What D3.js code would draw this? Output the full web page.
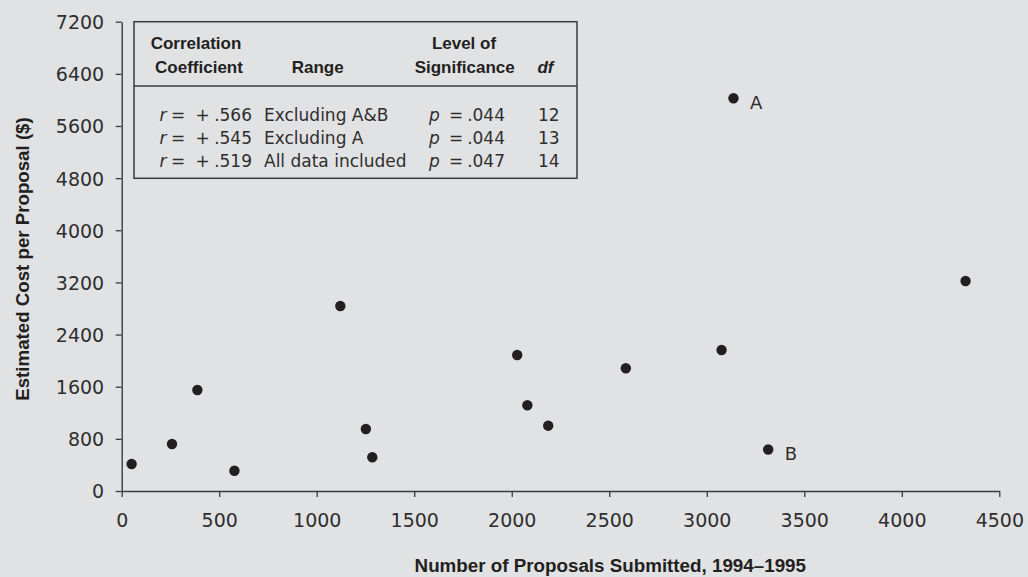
<!DOCTYPE html>
<html>
<head>
<meta charset="utf-8">
<script src="https://cdn.jsdelivr.net/npm/d3@7"></script>
<style>
  html, body { margin: 0; padding: 0; background: #e1e2e4; }
  svg { display: block; }
</style>
</head>
<body>
<svg id="chart" width="1028" height="577"></svg>
<script>
// ---- Data ----
const proposals = [51, 258, 388, 578, 1121, 1252, 1285, 2028, 2080, 2187, 2585, 3076, 3137, 3315, 4327];
const costs     = [414, 721, 1550, 311, 2838, 951, 517, 2087, 1315, 1002, 1883, 2163, 6025, 637, 3222];
const pointLabels = ["", "", "", "", "", "", "", "", "", "", "", "", "A", "B", ""];

const xTicks = [0, 500, 1000, 1500, 2000, 2500, 3000, 3500, 4000, 4500];
const yTicks = [0, 800, 1600, 2400, 3200, 4000, 4800, 5600, 6400, 7200];

const tableR     = [".566", ".545", ".519"];
const tableRange = ["Excluding A&B", "Excluding A", "All data included"];
const tableP     = [".044", ".044", ".047"];
const tableDf    = ["12", "13", "14"];

const xTitle = "Number of Proposals Submitted, 1994\u20131995";
const yTitle = "Estimated Cost per Proposal ($)";

// ---- Layout ----
const svg = d3.select("#chart");
const ink = "#231f20";
const lineCol = "#3b3b3b";
const regFont = "'DejaVu Sans', sans-serif";
const boldFont = "'Liberation Sans', Arial, sans-serif";

const x = d3.scaleLinear().domain([0, 4500]).range([121.7, 999.3]);
const y = d3.scaleLinear().domain([0, 7200]).range([491, 21.7]);

// X axis
const gx = svg.append("g")
  .attr("transform", `translate(0,${y(0)})`)
  .call(d3.axisBottom(x).tickValues(xTicks).tickFormat(d3.format("d")).tickSize(6).tickSizeOuter(0));
gx.select(".domain").attr("stroke", lineCol).attr("stroke-width", 1.4);
gx.selectAll(".tick line").attr("stroke", lineCol).attr("stroke-width", 1.3);
gx.selectAll(".tick text")
  .attr("y", 36.3).attr("dy", 0)
  .attr("font-family", regFont).attr("font-size", 19)
  .attr("fill", "#2e2e2e");

// Y axis
const gy = svg.append("g")
  .attr("transform", `translate(${x(0)},0)`)
  .call(d3.axisLeft(y).tickValues(yTicks).tickFormat(d3.format("d")).tickSize(6).tickSizeOuter(0));
gy.select(".domain").attr("stroke", lineCol).attr("stroke-width", 1.4);
gy.selectAll(".tick line").attr("stroke", lineCol).attr("stroke-width", 1.3);
gy.selectAll(".tick text")
  .attr("x", -17.5).attr("dy", "0.364em")
  .attr("font-family", regFont).attr("font-size", 19)
  .attr("fill", "#2e2e2e");

// Axis titles
svg.append("text")
  .attr("x", 610.3).attr("y", 571.7)
  .attr("text-anchor", "middle")
  .attr("font-family", boldFont).attr("font-weight", "bold").attr("font-size", 18.8)
  .attr("fill", ink)
  .text(xTitle);

svg.append("text")
  .attr("transform", "translate(29,259) rotate(-90)")
  .attr("text-anchor", "middle")
  .attr("font-family", boldFont).attr("font-weight", "bold").attr("font-size", 18.7)
  .attr("fill", ink)
  .text(yTitle);

// Points
const pts = proposals.map((p, i) => ({ x: p, y: costs[i], label: pointLabels[i] }));
svg.append("g").selectAll("circle")
  .data(pts).join("circle")
  .attr("cx", d => x(d.x)).attr("cy", d => y(d.y))
  .attr("r", 5.2).attr("fill", ink);

svg.append("g").selectAll("text")
  .data(pts.filter(d => d.label)).join("text")
  .attr("x", d => x(d.x) + 16.5).attr("y", d => y(d.y) + 10.5)
  .attr("font-family", regFont).attr("font-size", 18)
  .attr("fill", "#2e2e2e")
  .text(d => d.label);

// Table box
const tbl = svg.append("g");
tbl.append("rect")
  .attr("x", 134).attr("y", 21.7).attr("width", 443).attr("height", 156.6)
  .attr("fill", "none").attr("stroke", lineCol).attr("stroke-width", 1.5);
tbl.append("line")
  .attr("x1", 134).attr("x2", 577).attr("y1", 86).attr("y2", 86)
  .attr("stroke", lineCol).attr("stroke-width", 1.5);

function header(txt, cx, cy, italic) {
  tbl.append("text")
    .attr("x", cx).attr("y", cy)
    .attr("text-anchor", "middle")
    .attr("font-family", boldFont).attr("font-weight", "bold").attr("font-size", 17)
    .attr("font-style", italic ? "italic" : "normal")
    .attr("fill", ink)
    .text(txt);
}
header("Correlation", 196, 49.3);
header("Coefficient", 199, 72.7);
header("Range", 317.7, 72.7);
header("Level of", 464, 49.3);
header("Significance", 464.7, 72.7);
header("df", 545.5, 72.7, true);

const rowY = [120.5, 144, 167.3];
function cell(txt, xx, yy, anchor, italic) {
  tbl.append("text")
    .attr("x", xx).attr("y", yy)
    .attr("text-anchor", anchor)
    .attr("font-family", regFont).attr("font-size", 17)
    .attr("font-style", italic ? "italic" : "normal")
    .attr("fill", "#2e2e2e")
    .text(txt);
}
tableR.forEach((r, i) => {
  const yy = rowY[i];
  cell("r", 159.5, yy, "start", true);
  cell("=", 171, yy, "start");
  cell("+", 195.5, yy, "start");
  cell(r, 252, yy, "end");
  cell(tableRange[i], 264, yy, "start");
  cell("p", 429, yy, "start", true);
  cell("=", 449, yy, "start");
  cell(tableP[i], 505, yy, "end");
  cell(tableDf[i], 538, yy, "start");
});
</script>
</body>
</html>
